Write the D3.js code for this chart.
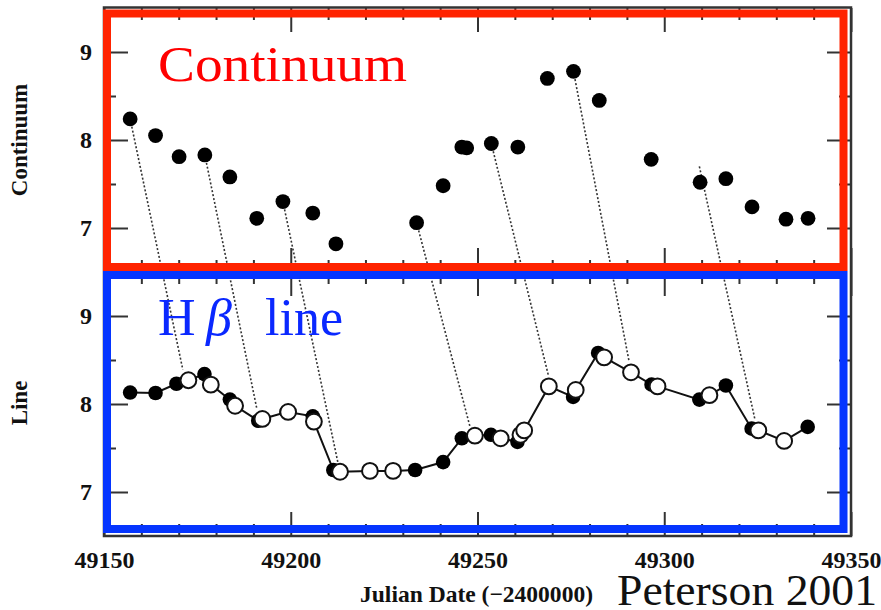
<!DOCTYPE html>
<html>
<head>
<meta charset="utf-8">
<script src="https://cdn.jsdelivr.net/npm/d3@7"></script>
<style>
  html, body { margin: 0; padding: 0; background: #fff; }
  svg { display: block; }
</style>
</head>
<body>
<svg id="chart" width="881" height="610"></svg>
<script>
// ---------- data ----------
const xMajorTicks = [49150, 49200, 49250, 49300, 49350];
const yMajorTicks = [7, 8, 9];
const yMinorTicks = [7.5, 8.5];

// continuum light curve (top panel)
const contDays = [49157.0,49163.8,49170.1,49177.0,49183.7,49190.9,49197.9,49205.9,49212.1,49233.7,49240.8,49245.8,49247.1,49253.7,49260.8,49268.7,49275.7,49282.6,49296.5,49309.6,49316.5,49323.5,49332.6,49338.5];
const contFlux = [8.24,8.05,7.81,7.83,7.58,7.11,7.30,7.17,6.82,7.06,7.48,7.92,7.91,7.96,7.92,8.70,8.78,8.45,7.78,7.52,7.56,7.24,7.10,7.11];

// H-beta line light curve (bottom panel, filled)
const lineDays = [49157.0,49163.8,49169.4,49176.9,49183.7,49191.3,49198.9,49205.9,49211.4,49233.3,49240.8,49245.8,49253.6,49260.7,49275.6,49282.3,49296.6,49309.4,49316.5,49323.4,49338.4];
const lineFlux = [8.13,8.125,8.23,8.34,8.05,7.81,7.91,7.86,7.25,7.25,7.34,7.61,7.65,7.57,8.08,8.58,8.22,8.05,8.21,7.72,7.74];

// time-shifted continuum (bottom panel, open)
const shiftDays = [49172.6,49178.6,49185.1,49192.4,49199.3,49206.2,49213.2,49221.2,49227.4,49249.3,49256.2,49261.5,49262.5,49269.1,49276.3,49283.9,49291.1,49298.2,49312.1,49325.2,49332.1];
const shiftFlux = [8.27,8.22,7.98,7.83,7.91,7.80,7.23,7.24,7.24,7.64,7.61,7.65,7.70,8.20,8.16,8.53,8.36,8.20,8.10,7.70,7.58];

// dotted lag connectors (top panel point -> bottom panel point)
const lagFromDay  = [49157.0,49177.0,49197.9,49233.7,49253.7,49275.7,49309.4];
const lagFromFlux = [8.24,7.83,7.30,7.06,7.96,8.78,7.70];
const lagToDay    = [49171.1,49190.9,49212.6,49248.0,49268.95,49290.6,49324.3];
const lagToFlux   = [8.39,7.95,7.34,7.74,8.33,8.48,7.82];

// ---------- layout ----------
const svg = d3.select("#chart");
const serif = "'Liberation Serif','Times New Roman',serif";
const L = 104, R = 851, T = 8, M = 272, B = 536;

const x = d3.scaleLinear().domain([49150, 49350]).range([L, R]);
const yTop = d3.scaleLinear().domain([6.5, 9.5]).range([M, T]);
const yBot = d3.scaleLinear().domain([6.5, 9.5]).range([B, M]);

const xMinor = d3.range(49160, 49350, 10).filter(d => d % 50 !== 0);

// frame
svg.append("rect").attr("x", L).attr("y", T - 0.5).attr("width", R - L).attr("height", B - T + 0.5)
  .attr("fill", "none").attr("stroke", "#333").attr("stroke-width", 2.5);

function tickAxis(axis, tx, ty) {
  const g = svg.append("g").attr("transform", `translate(${tx},${ty})`).call(axis);
  g.select(".domain").remove();
  g.selectAll(".tick line").attr("stroke", "#333").attr("stroke-width", 2);
  g.selectAll(".tick text").remove();
}

[[yTop, T, M], [yBot, M, B]].forEach(([ys, top, bot]) => {
  tickAxis(d3.axisTop(x).tickValues(xMajorTicks).tickSize(-24), 0, top);
  tickAxis(d3.axisTop(x).tickValues(xMinor).tickSize(-12), 0, top);
  tickAxis(d3.axisBottom(x).tickValues(xMajorTicks).tickSize(-24), 0, bot);
  tickAxis(d3.axisBottom(x).tickValues(xMinor).tickSize(-12), 0, bot);
  tickAxis(d3.axisLeft(ys).tickValues(yMajorTicks).tickSize(-24), L, 0);
  tickAxis(d3.axisLeft(ys).tickValues(yMinorTicks).tickSize(-12), L, 0);
  tickAxis(d3.axisRight(ys).tickValues(yMajorTicks).tickSize(-24), R, 0);
  tickAxis(d3.axisRight(ys).tickValues(yMinorTicks).tickSize(-12), R, 0);

  // y tick labels
  const gl = svg.append("g").attr("transform", `translate(${L},0)`)
    .call(d3.axisLeft(ys).tickValues(yMajorTicks).tickSize(0).tickPadding(12).tickFormat(d3.format("d")));
  gl.select(".domain").remove();
  gl.selectAll("text").attr("font-family", serif).attr("font-weight", "bold")
    .attr("font-size", 24).attr("fill", "#111");
});

// x tick labels
const gx = svg.append("g").attr("transform", `translate(0,${B})`)
  .call(d3.axisBottom(x).tickValues(xMajorTicks).tickSize(0).tickPadding(15).tickFormat(d3.format("d")));
gx.select(".domain").remove();
gx.selectAll("text").attr("font-family", serif).attr("font-weight", "bold")
  .attr("font-size", 24).attr("fill", "#111");

// axis titles
svg.append("text").attr("transform", "translate(27,140) rotate(-90)")
  .attr("text-anchor", "middle").attr("font-family", serif).attr("font-weight", "bold")
  .attr("font-size", 23).attr("fill", "#111").text("Continuum");
svg.append("text").attr("transform", "translate(27,403) rotate(-90)")
  .attr("text-anchor", "middle").attr("font-family", serif).attr("font-weight", "bold")
  .attr("font-size", 23).attr("fill", "#111").text("Line");
svg.append("text").attr("x", 360).attr("y", 602).attr("textLength", 233)
  .attr("lengthAdjust", "spacingAndGlyphs")
  .attr("font-family", serif).attr("font-weight", "bold")
  .attr("font-size", 23).attr("fill", "#111").text("Julian Date (\u22122400000)");

// dotted lag connectors
svg.append("g").selectAll("line").data(d3.range(lagFromDay.length)).join("line")
  .attr("x1", i => x(lagFromDay[i])).attr("y1", i => yTop(lagFromFlux[i]))
  .attr("x2", i => x(lagToDay[i])).attr("y2", i => yBot(lagToFlux[i]))
  .attr("stroke", "#333").attr("stroke-width", 1.6).attr("stroke-dasharray", "2,2");

// top panel points
svg.append("g").selectAll("circle").data(d3.range(contDays.length)).join("circle")
  .attr("cx", i => x(contDays[i])).attr("cy", i => yTop(contFlux[i])).attr("r", 7.4)
  .attr("fill", "#000");

// bottom panel connecting line through all points in time order
const merged = d3.range(lineDays.length).map(i => [lineDays[i], lineFlux[i]])
  .concat(d3.range(shiftDays.length).map(i => [shiftDays[i], shiftFlux[i]]))
  .sort((a, b) => a[0] - b[0]);
svg.append("path").datum(merged)
  .attr("d", d3.line().x(d => x(d[0])).y(d => yBot(d[1])))
  .attr("fill", "none").attr("stroke", "#111").attr("stroke-width", 2);

svg.append("g").selectAll("circle").data(d3.range(lineDays.length)).join("circle")
  .attr("cx", i => x(lineDays[i])).attr("cy", i => yBot(lineFlux[i])).attr("r", 7.3)
  .attr("fill", "#000");
svg.append("g").selectAll("circle").data(d3.range(shiftDays.length)).join("circle")
  .attr("cx", i => x(shiftDays[i])).attr("cy", i => yBot(shiftFlux[i])).attr("r", 7.9)
  .attr("fill", "#fff").attr("stroke", "#111").attr("stroke-width", 2);

// highlight boxes
svg.append("rect").attr("x", 107).attr("y", 13.5).attr("width", 736.5).attr("height", 253.5)
  .attr("fill", "none").attr("stroke", "#ff2300").attr("stroke-width", 8);
svg.append("rect").attr("x", 107).attr("y", 275).attr("width", 736.5).attr("height", 254)
  .attr("fill", "none").attr("stroke", "#0535ff").attr("stroke-width", 8);

// annotations
svg.append("text").attr("x", 158).attr("y", 81).attr("textLength", 249)
  .attr("lengthAdjust", "spacingAndGlyphs")
  .attr("font-family", serif).attr("font-size", 50).attr("fill", "#ff0000").text("Continuum");
const hb = svg.append("text").attr("y", 335).attr("font-family", serif)
  .attr("font-size", 52).attr("fill", "#0a28ff");
hb.append("tspan").attr("x", 158).text("H");
hb.append("tspan").attr("x", 206).attr("font-style", "italic").text("\u03b2");
hb.append("tspan").attr("x", 265).text("line");

svg.append("text").attr("x", 617).attr("y", 605).attr("textLength", 260)
  .attr("lengthAdjust", "spacingAndGlyphs")
  .attr("font-family", serif).attr("font-size", 45).attr("fill", "#111").text("Peterson 2001");
</script>
</body>
</html>
